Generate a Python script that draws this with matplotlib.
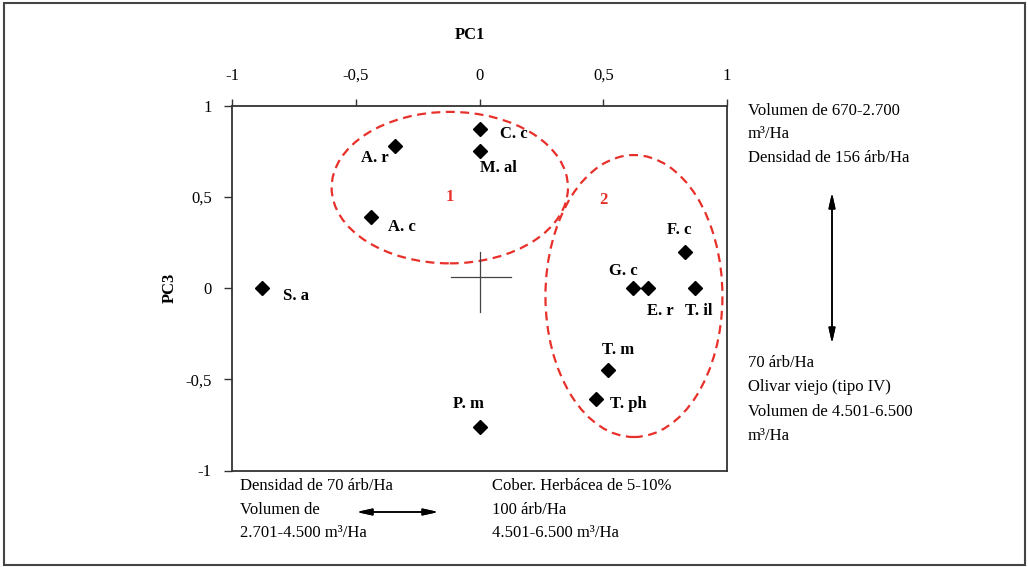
import matplotlib
matplotlib.use("Agg")
import matplotlib.pyplot as plt
from matplotlib.patches import Ellipse, Rectangle

plt.rcParams['font.family'] = ['Liberation Serif', 'DejaVu Serif']

# species scores on PC1 / PC3
species = ["S. a", "A. r", "A. c", "C. c", "M. al", "P. m",
           "F. c", "G. c", "E. r", "T. il", "T. m", "T. ph"]
pc1 = [-0.88, -0.34, -0.44, 0.0, 0.0, 0.0, 0.83, 0.62, 0.68, 0.87, 0.52, 0.47]
pc3 = [0.0, 0.78, 0.39, 0.87, 0.75, -0.76, 0.20, 0.0, 0.0, 0.0, -0.45, -0.61]

ticks = [-1, -0.5, 0, 0.5, 1]
tick_labels = ["-1", "-0,5", "0", "0,5", "1"]

# groups: (label, centre x, centre y, width, height)
groups = [("1", -0.12, 0.55, 0.955, 0.83),
          ("2", 0.624, -0.044, 0.715, 1.545)]

right_top = ["Volumen de 670-2.700", "m\u00b3/Ha", "Densidad de 156 árb/Ha"]
right_bottom = ["70 árb/Ha", "Olivar viejo (tipo IV)", "Volumen de 4.501-6.500", "m\u00b3/Ha"]
bottom_left = ["Densidad de 70 árb/Ha", "Volumen de", "2.701-4.500 m\u00b3/Ha"]
bottom_right = ["Cober. Herbácea de 5-10%", "100 árb/Ha", "4.501-6.500 m\u00b3/Ha"]

# label placement (pixel offsets from point, ha)
label_pos = {
    "S. a": (21, -8, "left"), "A. r": (-7, -12, "right"), "A. c": (17, -10, "left"),
    "C. c": (21, -5, "left"), "M. al": (0, -17, "left"), "P. m": (-11, 23, "center"),
    "F. c": (-6, 22, "center"), "G. c": (-10, 17, "center"), "E. r": (13, -23, "center"),
    "T. il": (4, -23, "center"), "T. m": (10, 20, "center"), "T. ph": (14, -5, "left"),
}

W, H = 1028, 567
fig = plt.figure(figsize=(W / 100, H / 100), dpi=100)
ax = fig.add_axes([232 / W, 1 - 470.5 / H, 495 / W, 365 / H])

def fx(px):
    return px / W

def fy(py):
    return 1 - py / H

ax.set_xlim(-1, 1)
ax.set_ylim(-1, 1)
ax.xaxis.tick_top()
ax.set_xticks(ticks)
ax.set_xticklabels(tick_labels)
ax.set_yticks(ticks)
ax.set_yticklabels(tick_labels)
ax.tick_params(axis='x', direction='out', length=5, width=1, pad=10.5, labelsize=12, colors='#333333', labelcolor='black')
ax.tick_params(axis='y', direction='out', length=6, width=1, pad=8.5, labelsize=12, colors='#333333', labelcolor='black')
for s in ax.spines.values():
    s.set_color('#333333')
    s.set_linewidth(1.3)

# crosshair at origin region
ax.plot([0, 0], [-0.13, 0.2], color='#444444', lw=0.9)
ax.plot([-0.115, 0.127], [0.06, 0.06], color='#444444', lw=0.9)

for name, cx, cy, w, h in groups:
    ax.add_patch(Ellipse((cx, cy), w, h, fill=False, edgecolor='#e8302a',
                         lw=1.6, ls=(0, (4, 2.5))))
ax.text(-0.12, 0.50, "1", color='#e8302a', fontsize=12, fontweight='bold', ha='center', va='center')
ax.text(0.5, 0.48, "2", color='#e8302a', fontsize=12, fontweight='bold', ha='center', va='center')

ax.plot(pc1, pc3, 'D', color='black', markersize=7.5, ls='none')
for name, x, y in zip(species, pc1, pc3):
    dx, dy, ha = label_pos[name]
    ax.annotate(name, (x, y), xytext=(dx, dy), textcoords='offset pixels',
                ha=ha, va='center', fontsize=12, fontweight='bold')

fig.text(fx(470), fy(35), "PC1", fontsize=12, fontweight='bold', ha='center', va='center')
fig.text(fx(170), fy(288), "PC3", fontsize=12, fontweight='bold', rotation=90, ha='center', va='center')

for i, t in enumerate(right_top):
    fig.text(fx(748), fy(111 + i * 23.5), t, fontsize=12, va='center')
for i, t in enumerate(right_bottom):
    fig.text(fx(748), fy(363 + i * 24.3), t, fontsize=12, va='center')
for i, t in enumerate(bottom_left):
    fig.text(fx(240), fy(486 + i * 23.5), t, fontsize=12, va='center')
for i, t in enumerate(bottom_right):
    fig.text(fx(492), fy(486 + i * 23.5), t, fontsize=12, va='center')

arrow = dict(arrowstyle='<|-|>,head_length=0.9,head_width=0.2', color='black', lw=1.1)
fig.add_artist(plt.annotate("", xy=(fx(832), fy(190)), xytext=(fx(832), fy(346)),
                            xycoords='figure fraction', arrowprops=arrow))
fig.add_artist(plt.annotate("", xy=(fx(354), fy(512)), xytext=(fx(441), fy(512)),
                            xycoords='figure fraction', arrowprops=arrow))

# outer frame
fig.add_artist(Rectangle((fx(4), fy(565)), fx(1021), 562 / H, transform=fig.transFigure,
                         fill=False, edgecolor='#444444', lw=1.5))

fig.savefig("out.png", dpi=100)
